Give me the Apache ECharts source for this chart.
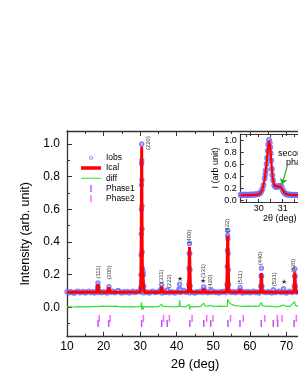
<!DOCTYPE html>
<html><head><meta charset="utf-8">
<script src="https://cdn.jsdelivr.net/npm/echarts@6/dist/echarts.min.js"></script>
<style>html,body{margin:0;padding:0;background:#fff}#c{width:298px;height:385px}</style>
</head><body><div id="c"></div>
<script>
const FONT = '"Liberation Sans", Arial, sans-serif';
// ---------- main pattern ----------
const yLabelValues = [0, 0.2, 0.4, 0.6, 0.8, 1.0];
const yMinorValues = [-0.1, 0.1, 0.3, 0.5, 0.7, 0.9];
const obsStart = 10, obsStep = 0.5;
const obsBase = [
  0.095,0.088,0.097,0.091,0.086,0.096,0.099,0.089,0.093,0.097,
  0.087,0.094,0.098,0.090,0.095,0.088,0.096,0.091,0.094,0.089,
  0.096,0.090,0.087,0.095,0.092,0.098,0.089,0.094,0.100,0.092,
  0.088,0.095,0.091,0.097,0.087,0.093,0.098,0.090,0.094,0.096,
  0.101,0.093,0.089,0.096,0.092,0.087,0.095,0.099,0.090,0.093,
  0.097,0.094,0.088,0.096,0.091,0.098,0.089,0.095,0.092,0.087,
  0.094,0.099,0.091,0.096,0.104,0.093,0.097,0.089,0.095,0.091,
  0.088,0.096,0.092,0.098,0.090,0.094,0.097,0.089,0.095,0.092,
  0.098,0.090,0.094,0.088,0.096,0.093,0.099,0.091,0.105,0.095,
  0.091,0.097,0.089,0.094,0.098,0.092,0.088,0.095,0.091,0.097,
  0.089,0.094,0.098,0.091,0.095,0.088,0.096,0.099,0.092,0.090,
  0.096,0.093,0.088,0.097,0.091,0.095,0.099,0.090,0.094,0.092,
  0.087,0.095,0.098,0.091,0.094,0.100,0.092,0.096,0.089,0.093,
  0.097,0.091,0.095,0.088,0.094,0.098,0.090,0.093,0.096,0.089,
  0.092
];
const obsPeaks = [
  [18.25,0.102],[18.35,0.125],[18.45,0.150],[18.55,0.125],[18.65,0.100],
  [21.3,0.105],[21.45,0.126],[21.6,0.102],
  [24.0,0.103],
  [30.15,0.12],[30.22,0.2],[30.27,0.32],[30.31,0.45],[30.34,0.6],[30.37,0.75],[30.39,0.88],[30.42,1.0],
  [30.45,0.9],[30.47,0.78],[30.5,0.62],[30.53,0.48],[30.56,0.34],[30.6,0.24],[30.7,0.2],[30.8,0.22],[30.9,0.2],[31.0,0.13],
  [35.7,0.11],[35.85,0.138],[36.0,0.11],
  [37.45,0.106],
  [40.65,0.112],[40.8,0.142],[40.95,0.11],
  [43.3,0.14],[43.38,0.24],[43.44,0.33],[43.5,0.39],[43.56,0.33],[43.62,0.23],[43.7,0.13],
  [47.25,0.105],[47.4,0.125],[47.55,0.105],
  [49.3,0.104],
  [53.75,0.14],[53.82,0.25],[53.87,0.35],[53.92,0.44],[53.96,0.47],[54.01,0.42],[54.06,0.33],[54.12,0.23],[54.2,0.14],
  [57.2,0.104],[57.35,0.12],[57.5,0.102],
  [62.98,0.13],[63.07,0.19],[63.15,0.24],[63.23,0.19],[63.32,0.13],
  [66.45,0.108],
  [69.2,0.114],
  [72.13,0.13],[72.22,0.19],[72.3,0.235],[72.38,0.19],[72.47,0.13],
  [75.3,0.12]
];
const calcPts = [
  [10,0.093],[18.15,0.093],[18.45,0.142],[18.75,0.093],[21.15,0.093],[21.45,0.122],[21.75,0.093],
  [23.8,0.093],[24.0,0.097],[24.2,0.093],
  [30.1,0.094],[30.22,0.2],[30.3,0.45],[30.36,0.75],[30.42,0.985],[30.48,0.75],[30.54,0.42],[30.62,0.22],
  [30.75,0.2],[30.88,0.21],[31.0,0.12],[31.15,0.093],
  [35.6,0.093],[35.85,0.128],[36.1,0.093],[37.25,0.093],[37.45,0.1],[37.65,0.093],
  [43.2,0.094],[43.35,0.22],[43.5,0.37],[43.65,0.2],[43.8,0.094],
  [47.15,0.093],[47.4,0.115],[47.65,0.093],[49.1,0.093],[49.3,0.1],[49.5,0.093],
  [53.65,0.094],[53.8,0.24],[53.95,0.44],[54.1,0.24],[54.25,0.094],
  [57.1,0.093],[57.35,0.11],[57.6,0.093],
  [62.9,0.093],[63.15,0.21],[63.4,0.093],
  [66.25,0.093],[66.45,0.103],[66.65,0.093],
  [72.05,0.093],[72.3,0.215],[72.55,0.093],
  [75.05,0.093],[75.3,0.115],[75.55,0.093],[80,0.093]
];
const diffPts = [
  [10,0.004],[10.5,0.007],[11,0.003],[11.5,0.006],[12,0.002],[12.5,0.006],[13,0.004],[13.5,0.007],[14,0.003],
  [14.5,0.006],[15,0.004],[15.5,0.007],[16,0.003],[16.5,0.006],[17,0.004],[17.5,0.006],
  [18.2,0.004],[18.45,0.012],[18.7,0.002],[19,0.006],[19.5,0.004],[20,0.007],[20.5,0.003],[21,0.006],
  [21.3,0.003],[21.45,-0.006],[21.6,0.006],[22,0.003],[22.5,0.006],[23,0.004],[23.5,0.007],[24.0,0.011],
  [24.5,0.003],[25,0.006],[25.5,0.004],[26,0.007],[26.5,0.003],[27,0.006],[27.5,0.004],[28,0.007],
  [28.5,0.003],[29,0.006],[29.5,0.004],[30.2,0.005],[30.35,0.03],[30.45,-0.016],[30.6,0.01],[30.8,-0.012],
  [31.0,0.004],[31.5,0.007],[32,0.003],[32.5,0.006],[33,0.004],[33.5,0.007],[34,0.003],[34.5,0.006],
  [35,0.004],[35.85,0.018],[36.2,0.005],[36.6,0.003],[37,0.006],[37.45,0.011],[38,0.004],[38.5,0.007],
  [39,0.003],[39.5,0.006],[40,0.004],[40.65,0.006],[40.8,0.045],[40.95,0.006],[41.5,0.004],[42,0.007],
  [42.5,0.003],[43,0.006],[43.4,0.018],[43.55,-0.012],[43.7,0.004],[44,0.007],[44.5,0.003],[45,0.006],
  [45.5,0.004],[46,0.007],[46.5,0.004],[47.4,0.026],[47.8,0.008],[48.2,0.004],[48.6,0.007],[49.3,0.011],
  [49.7,0.003],[50,0.006],[50.5,0.003],[51,0.006],[51.5,0.004],[52,0.007],[52.5,0.003],[53,0.006],
  [53.8,0.005],[53.95,0.05],[54.3,0.03],[55,0.018],[55.5,0.012],[56,0.01],[56.5,0.006],[57,0.008],
  [57.35,0.02],[57.7,0.006],[58,0.003],[58.5,0.006],[59,0.004],[59.5,0.007],[60,0.003],[60.5,0.006],
  [61,0.004],[61.5,0.007],[62,0.003],[62.5,0.005],[63.1,0.03],[63.4,0.01],[63.8,0.004],[64.2,0.007],
  [64.6,0.003],[65,0.006],[65.5,0.004],[66,0.006],[66.45,0.013],[67,0.003],[67.5,0.006],[68,0.004],
  [68.5,0.007],[69.2,0.014],[69.6,0.004],[70,0.006],[70.5,0.003],[71,0.006],[71.5,0.004],[72.2,0.035],
  [72.5,0.012],[73,0.005],[73.5,0.003],[74,0.006],[75,0.005],[76,0.004],[78,0.005],[80,0.004]
];
const phase1Pos = [18.5,21.4,30.4,35.9,37.4,43.6,47.4,49.3,54.0,57.3,63.1,66.4,67.6,72.1,75.2];
const phase2Pos = [18.8,21.8,30.9,36.4,38.0,44.2,48.2,49.9,54.7,58.2,64.1,67.5,68.8,72.7,75.9];
const phase1Level = -0.099, phase2Level = -0.068;
const peakLabels = [
  ['(111)',18.5,0.216],['(200)',21.5,0.214],['(220)',32.3,1.006],['(311)',35.7,0.19],['(222)',38.0,0.16],
  ['(400)',43.5,0.434],['(331)',47.3,0.223],['(420)',49.1,0.158],['(422)',53.9,0.5],['(511)',57.3,0.182],
  ['(440)',63.0,0.3],['(531)',66.6,0.172],['(620)',71.9,0.255]
];
const starPos = [[40.8,0.173],[47.3,0.163],[69.2,0.152]];
// ---------- inset ----------
const insetYLabels = [0, 0.2, 0.4, 0.6, 0.8, 1.0];
const insetXLabels = [30, 31];
const insetXTicks = [29.5, 30, 30.5, 31, 31.5, 32];
const insetObs = [
  [29.25,0.09],[29.3,0.085],[29.35,0.092],[29.4,0.087],[29.45,0.094],[29.5,0.088],[29.55,0.091],[29.6,0.086],
  [29.65,0.093],[29.7,0.089],[29.75,0.095],[29.8,0.09],[29.85,0.094],[29.9,0.097],[29.95,0.1],[30.0,0.105],
  [30.05,0.115],[30.1,0.14],[30.15,0.18],[30.2,0.25],[30.25,0.36],[30.28,0.43],[30.3,0.5],[30.33,0.6],
  [30.35,0.7],[30.38,0.82],[30.4,0.92],[30.43,1.0],[30.46,0.96],[30.48,0.88],[30.5,0.78],[30.52,0.66],
  [30.55,0.52],[30.57,0.42],[30.6,0.33],[30.65,0.25],[30.7,0.225],[30.75,0.22],[30.8,0.225],[30.85,0.235],
  [30.9,0.24],[30.95,0.225],[31.0,0.17],[31.05,0.13],[31.1,0.11],[31.15,0.1],[31.2,0.095],[31.25,0.09],
  [31.3,0.093],[31.35,0.088],[31.4,0.091],[31.45,0.086],[31.5,0.09],[31.55,0.085],[31.6,0.088],[31.65,0.084],
  [31.7,0.087],[31.75,0.083],[31.8,0.086],[31.85,0.082],[31.9,0.084],[32.0,0.085],[32.1,0.083],[32.2,0.084]
];
const insetCalc = [
  [29.25,0.084],[29.5,0.085],[29.75,0.087],[29.95,0.092],[30.05,0.11],[30.15,0.17],[30.25,0.35],[30.32,0.58],
  [30.38,0.85],[30.43,0.99],[30.48,0.88],[30.53,0.62],[30.58,0.38],[30.64,0.25],[30.7,0.22],[30.8,0.22],
  [30.9,0.235],[30.96,0.22],[31.03,0.15],[31.1,0.11],[31.2,0.095],[31.4,0.088],[31.7,0.085],[32.5,0.083]
];
const arrowFrom = [31.18, 0.55], arrowTo = [30.97, 0.26];

const axisCol = '#333';
const ring = 'path://M0,0L0.01,0M8,3.5A2,2,0,1,1,12,3.5A2,2,0,1,1,8,3.5ZM8.9,3.5A1.1,1.1,0,1,0,11.1,3.5A1.1,1.1,0,1,0,8.9,3.5ZM20,7L19.99,7';
const thick = 'path://M0,0L0.01,0M0,1.7L20,1.7L20,5.3L0,5.3ZM20,7L19.99,7';
const thin = 'path://M0,0L0.01,0M0,3L20,3L20,4L0,4ZM20,7L19.99,7';
const bar = 'path://M0,0L0.01,0M9.3,0L10.7,0L10.7,7L9.3,7ZM20,7L19.99,7';

const chart = echarts.init(document.getElementById('c'), null, {renderer: 'canvas'});
const obsData = obsBase.map((y, i) => [obsStart + obsStep * i, y]).concat(obsPeaks);

chart.setOption({
  animation: false,
  backgroundColor: '#fff',
  textStyle: {fontFamily: FONT},
  grid: [
    {left: 67, top: 131, width: 256, height: 205.7, outerBoundsMode: 'none', containLabel: false},
    {left: 240.7, top: 134, width: 78, height: 68, outerBoundsMode: 'none', containLabel: false}
  ],
  legend: {
    orient: 'vertical', left: 76, top: 147.7, itemWidth: 20, itemHeight: 7, itemGap: 0.25,
    textStyle: {fontSize: 8.5, lineHeight: 10, color: '#000', fontFamily: FONT},
    data: [
      {name: 'Iobs', icon: ring}, {name: 'Ical', icon: thick}, {name: 'diff', icon: thin},
      {name: 'Phase1', icon: bar}, {name: 'Phase2', icon: bar}
    ]
  },
  xAxis: [
    {gridIndex: 0, type: 'value', min: 10, max: 80, interval: 10, position: 'bottom',
     name: '2θ (deg)', nameLocation: 'middle', nameGap: 19,
     nameTextStyle: {fontSize: 13, color: '#000', fontFamily: FONT},
     axisLine: {onZero: false, lineStyle: {color: axisCol, width: 1.3}},
     axisTick: {inside: true, length: 5, lineStyle: {color: axisCol}},
     minorTick: {show: true, splitNumber: 2, length: 3, lineStyle: {color: axisCol}},
     axisLabel: {fontSize: 12, color: '#000', margin: 4, fontFamily: FONT},
     splitLine: {show: false}},
    {gridIndex: 0, type: 'value', min: 10, max: 80, interval: 10, position: 'top',
     axisLine: {onZero: false, lineStyle: {color: axisCol, width: 1.3}},
     axisTick: {inside: true, length: 5, lineStyle: {color: axisCol}},
     minorTick: {show: true, splitNumber: 2, length: 3, lineStyle: {color: axisCol}},
     axisLabel: {show: false}, splitLine: {show: false}},
    {gridIndex: 1, type: 'value', min: 29.25, max: 32.5, position: 'bottom',
     name: '2θ (deg)', nameLocation: 'middle', nameGap: 9,
     nameTextStyle: {fontSize: 9, color: '#000', fontFamily: FONT},
     axisLine: {onZero: false, lineStyle: {color: axisCol, width: 1.2}},
     axisTick: {inside: true, length: 3, customValues: insetXTicks, lineStyle: {color: axisCol}},
     axisLabel: {fontSize: 9, color: '#000', margin: 2, customValues: insetXLabels, fontFamily: FONT},
     splitLine: {show: false}},
    {gridIndex: 1, type: 'value', min: 29.25, max: 32.5, position: 'top',
     axisLine: {onZero: false, lineStyle: {color: axisCol, width: 1.2}},
     axisTick: {inside: true, length: 3, customValues: insetXTicks, lineStyle: {color: axisCol}},
     axisLabel: {show: false}, splitLine: {show: false}}
  ],
  yAxis: [
    {gridIndex: 0, type: 'value', min: -0.18, max: 1.08, position: 'left',
     name: 'Intensity (arb. unit)', nameLocation: 'middle', nameGap: 24,
     nameTextStyle: {fontSize: 12.5, color: '#000', fontFamily: FONT},
     axisLine: {show: true, onZero: false, lineStyle: {color: axisCol, width: 1.3}},
     axisTick: {show: true, inside: true, length: 5, customValues: yLabelValues, lineStyle: {color: axisCol}},
     axisLabel: {fontSize: 12, color: '#000', margin: 7, customValues: yLabelValues,
                 formatter: v => v.toFixed(1), fontFamily: FONT},
     splitLine: {show: false}},
    {gridIndex: 0, type: 'value', min: -0.18, max: 1.08, position: 'left',
     axisLine: {show: false},
     axisTick: {show: true, inside: true, length: 3, customValues: yMinorValues, lineStyle: {color: axisCol}},
     axisLabel: {show: false}, splitLine: {show: false}},
    {gridIndex: 1, type: 'value', min: -0.03, max: 1.1, position: 'left',
     name: 'I (arb unit)', nameLocation: 'middle', nameGap: 16,
     nameTextStyle: {fontSize: 9, color: '#000', fontFamily: FONT},
     axisLine: {show: true, onZero: false, lineStyle: {color: axisCol, width: 1.2}},
     axisTick: {show: true, inside: true, length: 3, customValues: insetYLabels, lineStyle: {color: axisCol}},
     axisLabel: {fontSize: 9, color: '#000', margin: 4, customValues: insetYLabels,
                 formatter: v => v.toFixed(1), fontFamily: FONT},
     splitLine: {show: false}}
  ],
  series: [
    {name: 'Iobs', type: 'scatter', xAxisIndex: 0, yAxisIndex: 0, symbol: 'emptyCircle', symbolSize: 3.4,
     itemStyle: {color: '#6a6aff', borderWidth: 1}, data: obsData, z: 2, silent: true},
    {name: 'Ical', type: 'line', xAxisIndex: 0, yAxisIndex: 0, symbol: 'none', showSymbol: false,
     lineStyle: {color: '#ff0000', width: 3}, itemStyle: {color: '#ff0000'}, data: calcPts, z: 3, silent: true},
    {name: 'diff', type: 'line', xAxisIndex: 0, yAxisIndex: 0, symbol: 'none', showSymbol: false,
     lineStyle: {color: '#33e033', width: 1.2}, itemStyle: {color: '#33e033'}, data: diffPts, z: 3, silent: true},
    {name: 'Phase1', type: 'scatter', xAxisIndex: 0, yAxisIndex: 0, symbol: 'rect', symbolSize: [1.5, 7],
     itemStyle: {color: '#9a32f0'}, data: phase1Pos.map(x => [x, phase1Level]), z: 4, silent: true},
    {name: 'Phase2', type: 'scatter', xAxisIndex: 0, yAxisIndex: 0, symbol: 'rect', symbolSize: [1.5, 7],
     itemStyle: {color: '#ff3cff'}, data: phase2Pos.map(x => [x, phase2Level]), z: 4, silent: true},
    {name: 'peakLabels', type: 'scatter', xAxisIndex: 0, yAxisIndex: 0, symbolSize: 0, silent: true, z: 5,
     label: {show: true, position: 'inside', rotate: 90, formatter: p => p.name, fontSize: 6, color: '#000', fontFamily: FONT},
     data: peakLabels.map(d => ({name: d[0], value: [d[1], d[2]]}))},
    {name: 'stars', type: 'scatter', xAxisIndex: 0, yAxisIndex: 0, symbolSize: 0, silent: true, z: 5,
     label: {show: true, position: 'inside', formatter: '★', fontSize: 7, color: '#000'},
     data: starPos},
    {name: 'insetObs', type: 'scatter', xAxisIndex: 2, yAxisIndex: 2, symbol: 'emptyCircle', symbolSize: 4,
     itemStyle: {color: '#6a6aff', borderWidth: 1}, data: insetObs, z: 2, silent: true},
    {name: 'insetCalc', type: 'line', xAxisIndex: 2, yAxisIndex: 2, symbol: 'none', showSymbol: false,
     lineStyle: {color: '#ff0000', width: 2.2}, data: insetCalc, z: 3, silent: true,
     markLine: {silent: true, symbol: ['none', 'arrow'], symbolSize: 6, animation: false,
       lineStyle: {color: '#22aa22', width: 1.2, type: 'solid'}, label: {show: false},
       data: [[{coord: arrowFrom}, {coord: arrowTo}]]}}
  ],
  graphic: [
    {type: 'text', left: 278, top: 149, style: {text: 'second', fontSize: 9, fill: '#000', fontFamily: FONT}},
    {type: 'text', left: 286, top: 158, style: {text: 'phase', fontSize: 9, fill: '#000', fontFamily: FONT}}
  ]
});
</script>
</body></html>
